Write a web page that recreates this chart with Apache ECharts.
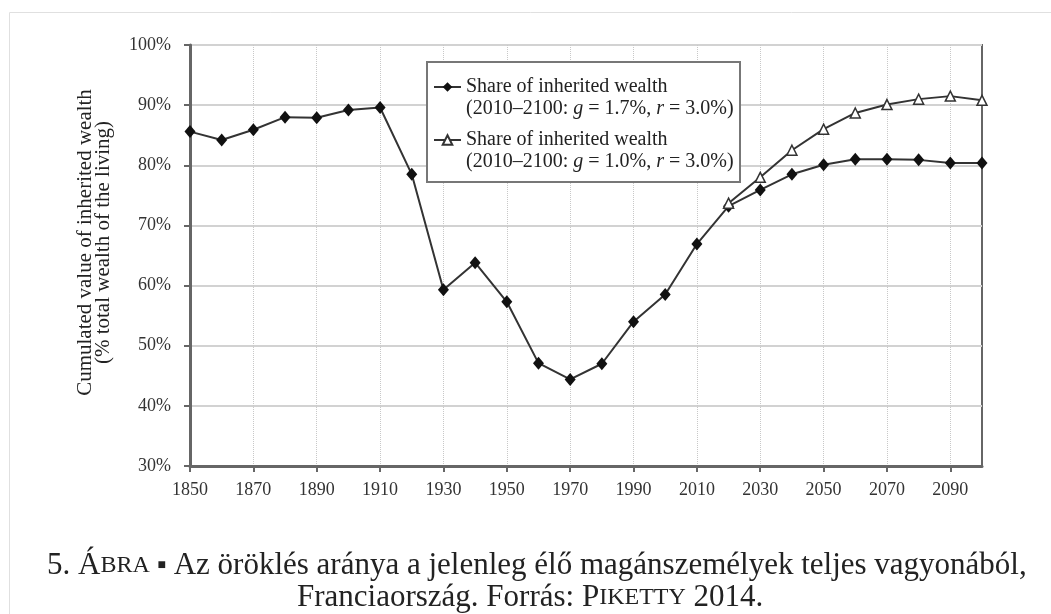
<!DOCTYPE html>
<html>
<head>
<meta charset="utf-8">
<script src="https://cdn.jsdelivr.net/npm/echarts@6/dist/echarts.min.js"></script>
<style>
  html, body { margin: 0; padding: 0; background: #fff; }
  #chart { width: 1051px; height: 614px; }
</style>
</head>
<body>
<div id="chart"></div>
<script>
// years 1850..2100, every 10 years
var years = ['1850', '1860', '1870', '1880', '1890', '1900', '1910', '1920', '1930', '1940',
  '1950', '1960', '1970', '1980', '1990', '2000', '2010', '2020', '2030', '2040',
  '2050', '2060', '2070', '2080', '2090', '2100'];
// g = 1.7%, r = 3.0%
var shareHigh = [85.6, 84.2, 85.9, 88.0, 87.9, 89.2, 89.6, 78.5, 59.3, 63.8,
  57.3, 47.1, 44.4, 47.0, 54.0, 58.5, 66.9, 73.2, 75.9, 78.5,
  80.1, 81.0, 81.0, 80.9, 80.4, 80.4];
// g = 1.0%, r = 3.0% (from 2020)
var shareLow = [null, null, null, null, null, null, null, null, null, null,
  null, null, null, null, null, null, null, 73.7, 78.0, 82.5,
  86.0, 88.7, 90.1, 91.0, 91.5, 90.8];

var serif = 'Liberation Serif';
var chart = echarts.init(document.getElementById('chart'));

var legendText = {
  'g17': '{a|Share of inherited wealth}\n{a|(2010–2100: }{i|g}{a| = 1.7%, }{i|r}{a| = 3.0%)}',
  'g10': '{a|Share of inherited wealth}\n{a|(2010–2100: }{i|g}{a| = 1.0%, }{i|r}{a| = 3.0%)}'
};

chart.setOption({
  animation: false,
  textStyle: { fontFamily: serif },
  grid: {
    left: 190, right: 69, top: 45, bottom: 148,
    show: true, borderColor: '#666', borderWidth: 2, backgroundColor: 'transparent'
  },
  legend: {
    orient: 'vertical',
    left: 433, top: 77,
    padding: 0,
    itemGap: 11,
    itemWidth: 27,
    itemHeight: 12,
    z: 5,
    data: ['g17', 'g10'],
    formatter: function (name) { return legendText[name]; },
    textStyle: {
      padding: [22, 0, 0, 0],
      rich: {
        a: { fontFamily: serif, fontSize: 20, color: '#222', lineHeight: 22 },
        i: { fontFamily: serif, fontSize: 20, color: '#222', lineHeight: 22, fontStyle: 'italic' }
      }
    }
  },
  xAxis: {
    type: 'category',
    data: years,
    boundaryGap: false,
    axisLine: { lineStyle: { color: '#666', width: 3 } },
    axisTick: { interval: 1, length: 6, lineStyle: { color: '#666', width: 2 } },
    axisLabel: { interval: 1, margin: 15, fontSize: 18, color: '#333', fontFamily: serif },
    splitLine: { show: true, interval: 1, lineStyle: { color: '#c8c8c8', width: 1, type: 'dotted' } }
  },
  yAxis: {
    type: 'value',
    min: 30, max: 100, interval: 10,
    name: 'Cumulated value of inherited wealth\n(% total wealth of the living)',
    nameLocation: 'middle',
    nameGap: 78,
    nameTextStyle: { fontFamily: serif, fontSize: 21, color: '#222', lineHeight: 18,
      padding: [0, 0, 0, 26] },
    axisLine: { show: true, lineStyle: { color: '#666', width: 3 } },
    axisTick: { show: true, length: 6, lineStyle: { color: '#666', width: 2 } },
    axisLabel: { margin: 19, fontSize: 18, color: '#333', fontFamily: serif,
      formatter: '{value}%' },
    splitLine: { lineStyle: { color: '#d2d2d2', width: 2 } }
  },
  graphic: [
    {
      type: 'rect', z: 4,
      shape: { x: 427, y: 62, width: 313, height: 120 },
      style: { fill: '#fff', stroke: '#777', lineWidth: 2 }
    },
    {
      type: 'rect', z: -1, silent: true,
      shape: { x: 9.5, y: 12.5, width: 1100, height: 700 },
      style: { fill: 'none', stroke: '#e0e0e0', lineWidth: 1 }
    },
    {
      type: 'text', left: 47, top: 550,
      style: {
        text: '{n|5. Á}{s|BRA}{n| }{b|■}{n| Az öröklés aránya a jelenleg élő magánszemélyek teljes vagyonából,}',
        rich: {
          n: { fontFamily: serif, fontSize: 31, fill: '#222' },
          s: { fontFamily: serif, fontSize: 24, fill: '#222' },
          b: { fontFamily: serif, fontSize: 14, fill: '#222' }
        }
      }
    },
    {
      type: 'text', left: 297, top: 582,
      style: {
        text: '{n|Franciaország. Forrás: P}{s|IKETTY}{n| 2014.}',
        rich: {
          n: { fontFamily: serif, fontSize: 31, fill: '#222' },
          s: { fontFamily: serif, fontSize: 24, fill: '#222' }
        }
      }
    }
  ],
  series: [
    {
      name: 'g17',
      type: 'line',
      data: shareHigh,
      symbol: 'diamond',
      symbolSize: [11, 13],
      itemStyle: { color: '#111' },
      lineStyle: { color: '#333', width: 2 },
      z: 2
    },
    {
      name: 'g10',
      type: 'line',
      data: shareLow,
      symbol: 'triangle',
      symbolSize: 10,
      itemStyle: { color: '#fff', borderColor: '#333', borderWidth: 1.5 },
      lineStyle: { color: '#333', width: 2 },
      z: 3
    }
  ]
});
</script>
</body>
</html>
